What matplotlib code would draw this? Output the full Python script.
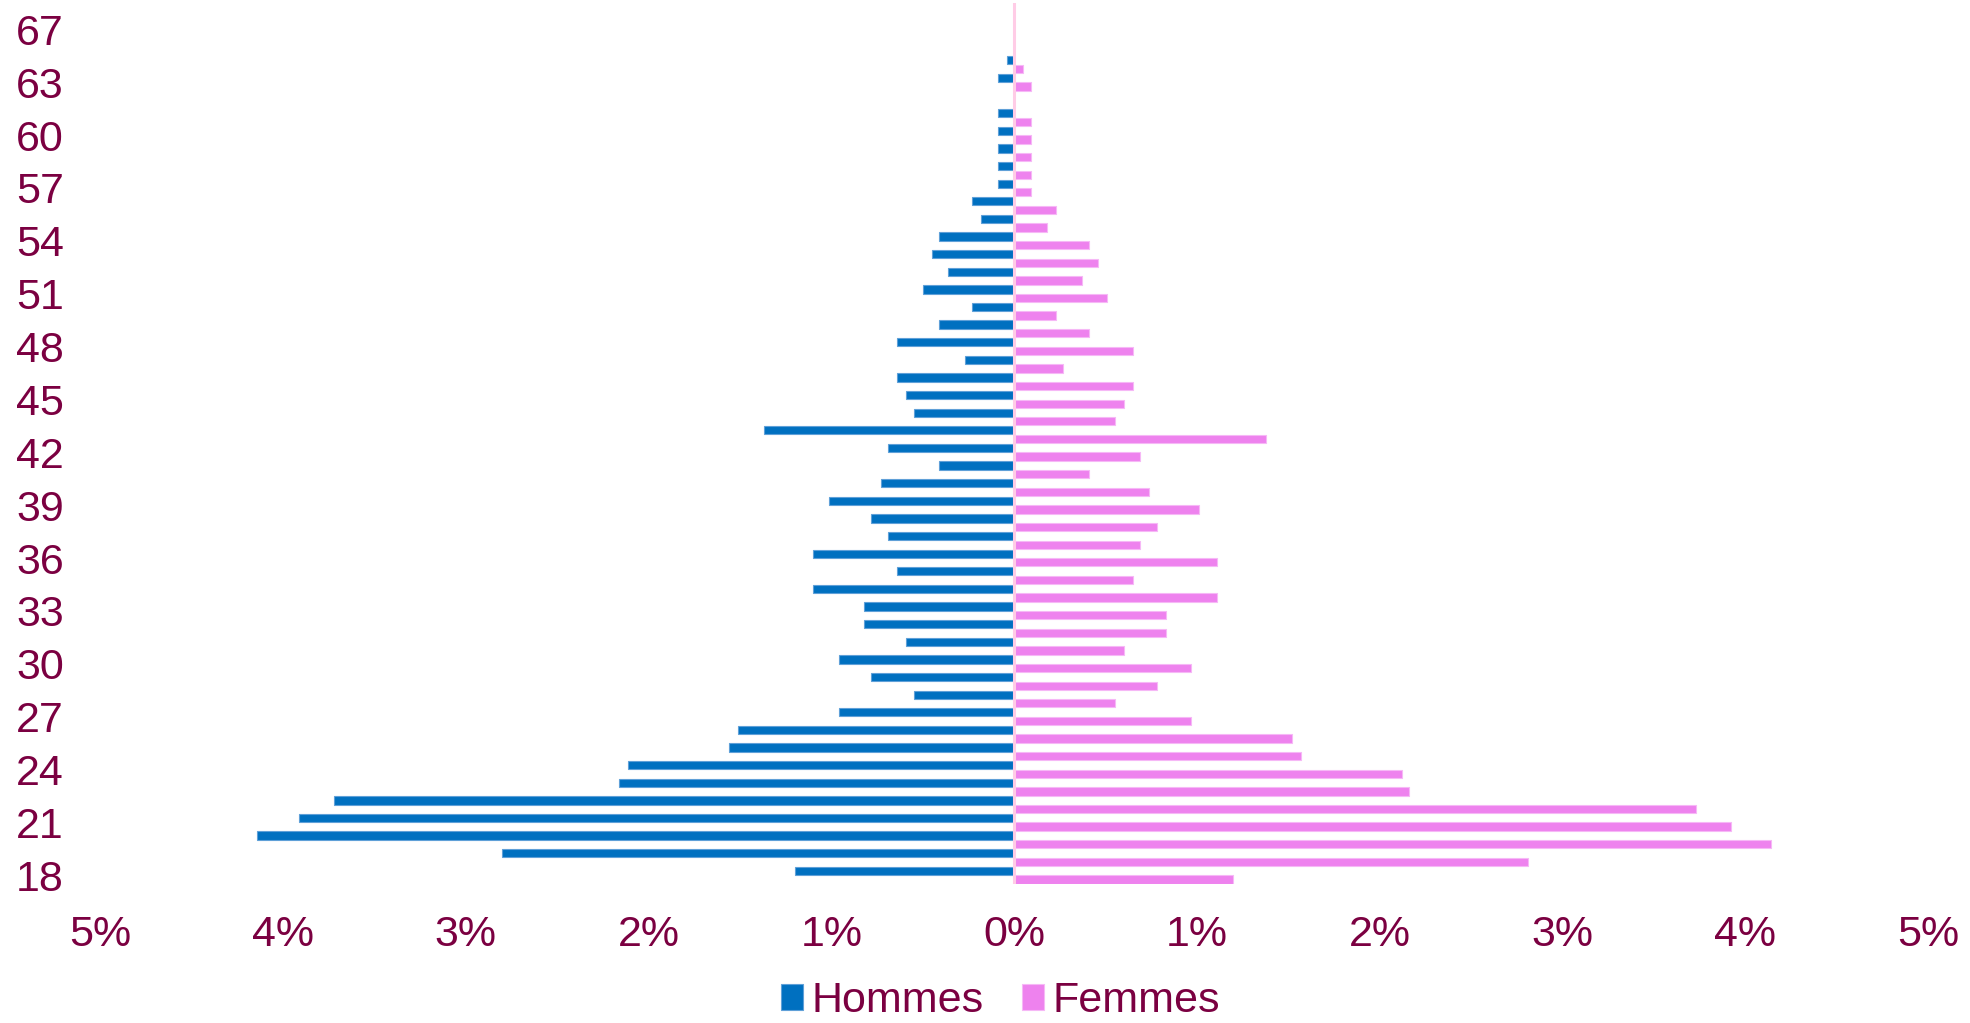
import matplotlib
matplotlib.use("Agg")
import matplotlib.pyplot as plt
import numpy as np

# age categories (bottom to top), one label every 3 categories
AGES = [str(a) for a in range(18, 65)] + ["66", "67", "68"]

# share of staff per age, in %
HOMMES = [1.20, 2.80, 4.14, 3.91, 3.72, 2.16, 2.11, 1.56, 1.51, 0.96,
          0.55, 0.78, 0.96, 0.59, 0.82, 0.82, 1.10, 0.64, 1.10, 0.69,
          0.78, 1.01, 0.73, 0.41, 0.69, 1.37, 0.55, 0.59, 0.64, 0.27,
          0.64, 0.41, 0.23, 0.50, 0.36, 0.45, 0.41, 0.18, 0.23, 0.09,
          0.09, 0.09, 0.09, 0.09, 0.00, 0.09, 0.04, 0.00, 0.00, 0.00]
FEMMES = [1.20, 2.81, 4.14, 3.92, 3.73, 2.16, 2.12, 1.57, 1.52, 0.97,
          0.55, 0.78, 0.97, 0.60, 0.83, 0.83, 1.11, 0.65, 1.11, 0.69,
          0.78, 1.01, 0.74, 0.41, 0.69, 1.38, 0.55, 0.60, 0.65, 0.27,
          0.65, 0.41, 0.23, 0.51, 0.37, 0.46, 0.41, 0.18, 0.23, 0.09,
          0.09, 0.09, 0.09, 0.09, 0.00, 0.09, 0.05, 0.00, 0.00, 0.00]
XTICKS = [-5, -4, -3, -2, -1, 0, 1, 2, 3, 4, 5]

BLUE = "#0070C0"
PINK = "#EE82EE"
TEXT = "#7B0041"

plt.rcParams["font.family"] = ["Liberation Sans", "DejaVu Sans"]

fig = plt.figure(figsize=(19.7, 10.23), dpi=100)
ax = fig.add_axes([0.0508, 0.1359, 0.9279, 0.8612])

y = np.arange(len(AGES))
h = 0.47
men = np.array(HOMMES)
women = np.array(FEMMES)
# skip empty ages so their zero-width edges don't show
m_ok = men > 0
w_ok = women > 0
ax.barh(y[m_ok] + 0.245, -men[m_ok], height=h, color=BLUE,
        edgecolor="#5fa0d8", linewidth=0.8, label="Hommes", zorder=2)
ax.barh(y[w_ok] - 0.245, women[w_ok], height=h, color=PINK,
        edgecolor="#f6b8f6", linewidth=0.8, label="Femmes", zorder=2)

ax.axvline(0, color="#FFCCE6", lw=2.2, zorder=3)

ax.set_xlim(-5, 5)
ax.set_ylim(-0.5, len(AGES) - 0.5)
ax.set_xticks(XTICKS)
ax.set_xticklabels([f"{abs(v)}%" for v in XTICKS])
ax.set_yticks(y[::3])
ax.set_yticklabels(AGES[::3])
ax.tick_params(axis="both", length=0, labelsize=31, colors=TEXT)
ax.tick_params(axis="y", pad=26)
ax.tick_params(axis="x", pad=22)
for s in ax.spines.values():
    s.set_visible(False)

fig.legend(loc="lower center", bbox_to_anchor=(0.508, 0.0), ncol=2, frameon=False,
           fontsize=31, labelcolor=TEXT, handlelength=0.5, handleheight=0.55,
           handletextpad=0.2, columnspacing=0.9, borderaxespad=0, borderpad=0.05)

fig.savefig("out.png", dpi=100)
